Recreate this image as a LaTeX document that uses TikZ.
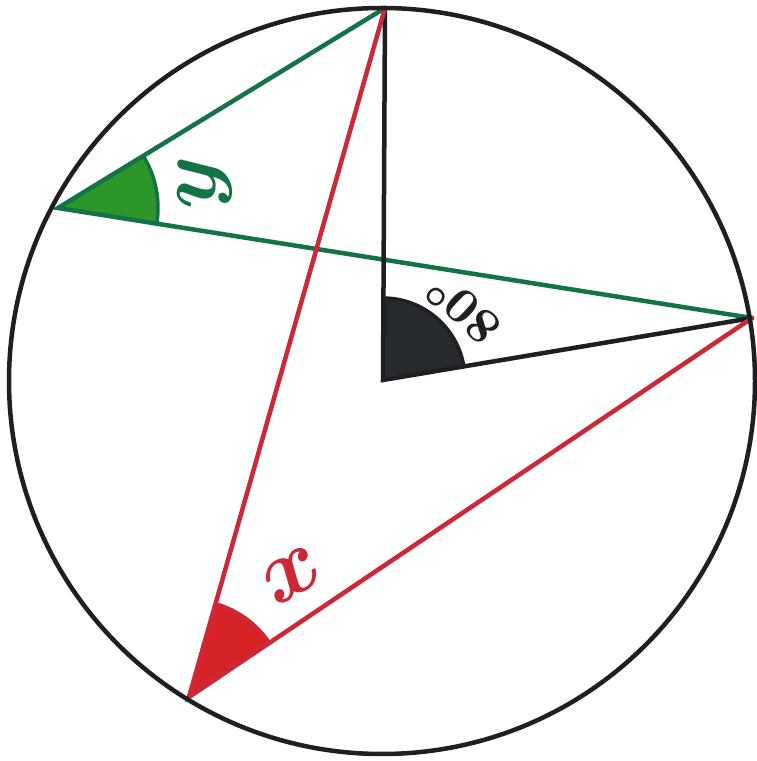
\documentclass[tikz,border=0pt]{standalone}
\usetikzlibrary{angles}
\definecolor{gline}{RGB}{20,115,70}
\definecolor{gfill}{RGB}{45,150,40}
\definecolor{rline}{RGB}{205,40,55}
\definecolor{rfill}{RGB}{215,35,40}
\definecolor{kline}{RGB}{30,30,35}
\definecolor{kfill}{RGB}{38,42,44}
\tikzset{
  seg/.style={line width=4.5pt, line cap=round},
  lbl/.style={inner sep=0pt, font=\boldmath},
}
\begin{document}
\begin{tikzpicture}[x=1pt,y=1pt]
\useasboundingbox (0,0) rectangle (756,761);
\coordinate (M) at (382,380);
\coordinate (A) at (385,753);
\coordinate (B) at (58,553);
\coordinate (C) at (752,443);
\coordinate (D) at (189,64);
\coordinate (O) at (383,381);
% angle sectors
\pic[fill=gfill, draw=gline, line width=3.5pt, angle radius=100pt] {angle=C--B--A};
\pic[fill=kfill, draw=kline, line width=3.5pt, angle radius=82pt] {angle=C--O--A};
\pic[fill=rfill, draw=rline, line width=3.5pt, angle radius=97pt] {angle=C--D--A};
% segments
\draw[seg, gline] (A) -- (B) -- (C);
\draw[seg, kline] (A) -- (O) -- (C);
\draw[seg, rline] (A) -- (D) -- (C);
% circle
\draw[kline, line width=4.5pt] (M) circle (373pt);
% labels
\node[lbl, text=gline, rotate=90, scale=8.5] (ly) at (205,578) {$y$};
\node[lbl, text=kline, rotate=137, scale=5] (l80) at (462,452) {$80^\circ$};
\node[lbl, text=rline, rotate=30, scale=9] (lx) at (292,186) {$x$};
\end{tikzpicture}
\end{document}
